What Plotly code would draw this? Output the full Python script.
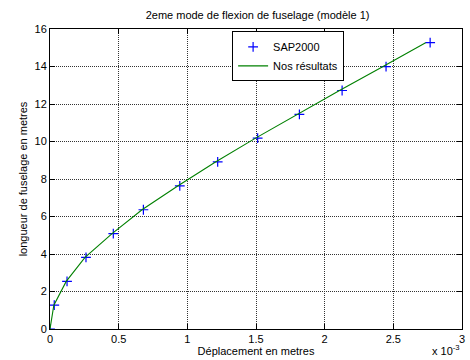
import plotly.graph_objects as go

# SAP2000 points (x in units of 1e-3 m)
sap_x = [0.0, 0.031, 0.124, 0.262, 0.461, 0.680, 0.945, 1.221, 1.512, 1.816, 2.127, 2.447, 2.768]
sap_y = [0.0, 1.27, 2.54, 3.82, 5.09, 6.36, 7.63, 8.91, 10.18, 11.45, 12.72, 13.99, 15.27]

# Nos résultats line
res_x = [0.0, 0.028, 0.118, 0.255, 0.452, 0.670, 0.930, 1.205, 1.497, 1.800, 2.108, 2.422, 2.735]
res_y = [0.0, 1.27, 2.54, 3.82, 5.09, 6.36, 7.63, 8.91, 10.18, 11.45, 12.72, 13.99, 15.27]

x_ticks = [0, 0.5, 1, 1.5, 2, 2.5, 3]
x_labels = ["0", "0.5", "1", "1.5", "2", "2.5", "3"]
y_ticks = [0, 2, 4, 6, 8, 10, 12, 14, 16]

FONT = "Liberation Sans, Arial, sans-serif"

fig = go.Figure()
fig.add_trace(go.Scatter(
    x=sap_x, y=sap_y, mode="markers", name="SAP2000",
    marker=dict(symbol="cross-thin", size=7, line=dict(color="#0000ff", width=1.2), color="#0000ff"),
))
fig.add_trace(go.Scatter(
    x=res_x, y=res_y, mode="lines", name="Nos résultats",
    line=dict(color="#008000", width=1.1),
))

axis_common = dict(
    showline=True, linecolor="black", linewidth=1, mirror="allticks",
    ticks="inside", ticklen=5, tickcolor="black",
    showgrid=True, gridcolor="#333333", griddash="1px,1px", gridwidth=1,
    zeroline=False, tickfont=dict(family=FONT, size=11, color="black"),
)

fig.update_layout(
    width=470, height=360,
    margin=dict(l=50, r=5, t=29, b=31),
    paper_bgcolor="white", plot_bgcolor="white",
    font=dict(family=FONT, size=11, color="black"),
    title=dict(text="2eme mode de flexion de fuselage (modèle 1)", x=0.548, xanchor="center",
               y=1 - 15/360, yanchor="middle", font=dict(size=11, family=FONT)),
    xaxis=dict(range=[0, 3], tickvals=x_ticks, ticktext=x_labels,
               title=dict(text="Déplacement en metres", standoff=2, font=dict(size=11)),
               **axis_common),
    yaxis=dict(range=[0, 16], tickvals=y_ticks,
               title=dict(text="longueur de fuselage en metres", standoff=4, font=dict(size=11)),
               **axis_common),
    legend=dict(x=0.442, y=0.992, xanchor="left", yanchor="top",
                bgcolor="white", bordercolor="black", borderwidth=1,
                font=dict(size=11, family=FONT), tracegroupgap=0,
                itemwidth=30),
    showlegend=True,
)

fig.add_annotation(text="x 10<sup>-3</sup>", xref="paper", yref="paper",
                   x=1.0, y=-0.1, xanchor="right", yanchor="bottom", showarrow=False,
                   font=dict(size=11, family=FONT))

fig.write_html("out.html")
